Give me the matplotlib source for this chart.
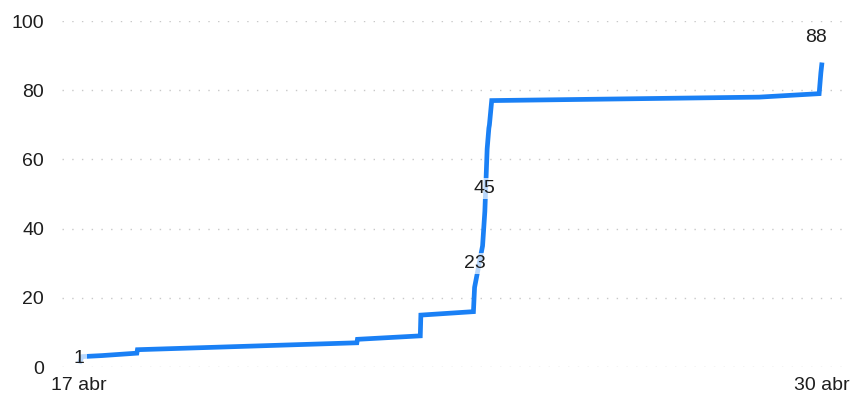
import datetime as dt

import matplotlib

matplotlib.use("Agg")
import matplotlib.pyplot as plt
import matplotlib.dates as mdates

# cumulative count over time (days after 17 abr, value)
start = dt.datetime(2020, 4, 17)
day_offsets = [0.00, 0.05, 0.40, 1.01, 1.02, 4.86, 4.87, 5.97, 5.98, 6.90,
               6.92, 7.06, 7.10, 7.14, 7.17, 7.18, 7.22, 11.90, 12.95, 12.98, 13.00]
values = [1, 3, 3.3, 4, 5, 7, 8, 9, 15, 16,
          23, 35, 45, 63, 69, 70, 77, 78, 79, 85, 88]

# data labels: (index into series, text, x/y offset in pixels)
label_idx = [0, 10, 12, 20]
label_txt = ["1", "23", "45", "88"]
label_off = [(0, 5), (0, 24), (0, 23), (-6, 25)]

tick_dates = [dt.datetime(2020, 4, 17), dt.datetime(2020, 4, 30)]
tick_labels = ["17 abr", "30 abr"]
y_ticks = [0, 20, 40, 60, 80, 100]

LINE = "#1A80F5"
TEXT = "#1e1e1e"

plt.rcParams.update({"font.family": ["Liberation Sans", "DejaVu Sans"], "font.size": 14})

times = [start + dt.timedelta(days=d) for d in day_offsets]

fig = plt.figure(figsize=(8.55, 4.0), dpi=100)
ax = fig.add_axes([62 / 855, 33 / 400, 788 / 855, 346 / 400])

ax.plot(times, values, color=LINE, lw=3.4, solid_capstyle="butt", solid_joinstyle="miter",
        zorder=3, clip_on=False)

for i, txt, (dx, dy) in zip(label_idx, label_txt, label_off):
    ax.annotate(txt, (times[i], values[i]), xytext=(dx, dy), textcoords="offset pixels",
                ha="center", va="center", color=TEXT, fontsize=14, zorder=4,
                bbox=dict(boxstyle="square,pad=0.1", fc="white", ec="none", alpha=0.7))

ax.set_ylim(0, 100)
ax.set_yticks(y_ticks)
x0 = start - dt.timedelta(days=0.30)
x1 = start + dt.timedelta(days=13.49)
ax.set_xlim(x0, x1)
ax.set_xticks(mdates.date2num(tick_dates))
ax.set_xticklabels(tick_labels)

for s in ax.spines.values():
    s.set_visible(False)
ax.tick_params(axis="both", length=0, colors=TEXT, labelsize=14)
ax.tick_params(axis="y", pad=13)
ax.tick_params(axis="x", pad=7)
ax.grid(axis="y", color="#c8c8c8", lw=1, linestyle=(0, (1, 6)))
ax.set_axisbelow(True)

fig.savefig("out.png", dpi=100)
